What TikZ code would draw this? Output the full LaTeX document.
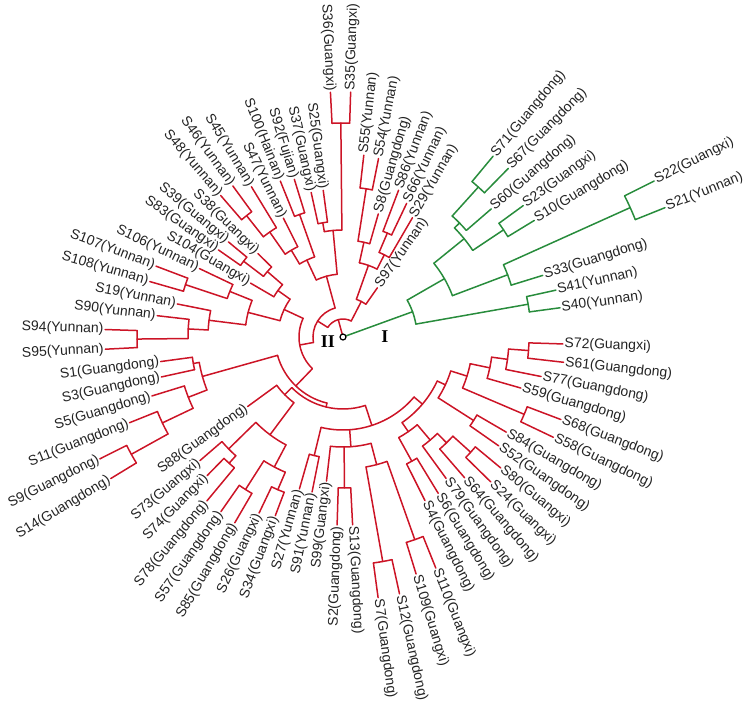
\documentclass[tikz,border=0pt]{standalone}
\usepackage{fontspec}
\setmainfont{Liberation Serif}
\setsansfont{Liberation Sans}
\definecolor{redc}{RGB}{204,20,38}
\definecolor{greenc}{RGB}{40,140,60}
\definecolor{textc}{RGB}{35,35,35}
\tikzset{
  rb/.style={draw=redc,line width=1.5pt,line cap=round},
  gb/.style={draw=greenc,line width=1.5pt,line cap=round},
  lbl/.style={font=\sffamily\fontsize{14}{16}\selectfont,text=textc,inner sep=1.5pt},
  clade/.style={font=\rmfamily\bfseries\fontsize{18}{20}\selectfont,text=black,inner sep=0pt}
}
% arc of an internal node: style, start angle, end angle, radius
\newcommand\ar[4]{\draw[#1] (#2:#4pt) arc[start angle=#2, end angle=#3, radius=#4pt];}
% radial branch: style, angle, inner radius, outer radius
\newcommand\br[4]{\draw[#1] (#2:#3pt) -- (#2:#4pt);}
% leaf: style, number, angle, parent radius, tip radius, province
\newcommand\lf[6]{%
  \coordinate (t#2) at (#3:#5pt);
  \draw[#1] (#3:#4pt) -- (t#2);
  \ifdim #3pt>90pt
    \ifdim #3pt<270pt
      \node[lbl,anchor=east,rotate=#3-180] (l#2) at (t#2) {S#2(#6)};
    \else
      \node[lbl,anchor=west,rotate=#3] (l#2) at (t#2) {S#2(#6)};
    \fi
  \else
    \node[lbl,anchor=west,rotate=#3] (l#2) at (t#2) {S#2(#6)};
  \fi}
\begin{document}
\begin{tikzpicture}[x=1pt,y=1pt]
\useasboundingbox (-343,-367) rectangle (407,337);
% ---------------- green clade I ----------------
\ar{gb}{45.56}{50.30}{202}
\lf{gb}{71}{50.30}{202}{235}{Guangdong}
\lf{gb}{67}{45.56}{202}{236}{Guangdong}
\br{gb}{47.93}{163}{202}
\ar{gb}{40.83}{47.93}{163}
\lf{gb}{60}{40.83}{163}{196}{Guangdong}
\br{gb}{44.38}{156}{163}
\ar{gb}{31.35}{36.09}{193}
\lf{gb}{23}{36.09}{193}{223}{Guangxi}
\lf{gb}{10}{31.35}{193}{224}{Guangdong}
\br{gb}{33.72}{156}{193}
\ar{gb}{33.72}{44.38}{156}
\br{gb}{39.05}{117}{156}
\ar{gb}{21.88}{26.62}{315}
\lf{gb}{22}{26.62}{315}{348}{Guangxi}
\lf{gb}{21}{21.88}{315}{347}{Yunnan}
\br{gb}{24.25}{176}{315}
\ar{gb}{17.14}{24.25}{176}
\lf{gb}{33}{17.14}{176}{209}{Guangdong}
\br{gb}{20.70}{117}{176}
\ar{gb}{20.70}{39.05}{117}
\br{gb}{29.88}{74}{117}
\ar{gb}{7.67}{12.41}{188}
\lf{gb}{41}{12.41}{188}{218}{Yunnan}
\lf{gb}{40}{7.67}{188}{219}{Yunnan}
\br{gb}{10.04}{74}{188}
\ar{gb}{10.04}{29.88}{74}
\br{gb}{19.96}{3.5}{74}
% ---------------- red clade II : A ----------------
\ar{rb}{78.74}{83.47}{150}
\lf{rb}{55}{83.47}{150}{183}{Yunnan}
\lf{rb}{54}{78.74}{150}{182}{Yunnan}
\br{rb}{81.11}{97}{150}
\ar{rb}{74.00}{81.11}{97}
\lf{rb}{8}{74.00}{97}{128}{Guangdong}
\br{rb}{77.55}{76}{97}
\ar{rb}{64.53}{69.26}{113}
\lf{rb}{86}{69.26}{113}{157}{Yunnan}
\lf{rb}{66}{64.53}{113}{148}{Yunnan}
\br{rb}{66.90}{92}{113}
\ar{rb}{59.79}{66.90}{92}
\lf{rb}{29}{59.79}{92}{138}{Yunnan}
\br{rb}{63.34}{76}{92}
\ar{rb}{63.34}{77.55}{76}
\br{rb}{70.45}{40}{76}
\ar{rb}{55.05}{70.45}{40}
\lf{rb}{97}{55.05}{40}{60}{Yunnan}
\br{rb}{62.75}{18}{40}
% ---------------- top ----------------
\ar{rb}{88.21}{92.94}{214}
\lf{rb}{36}{92.94}{214}{245}{Guangxi}
\lf{rb}{35}{88.21}{214}{245}{Guangxi}
\br{rb}{90.58}{107}{214}
\ar{rb}{97.68}{102.42}{116}
\lf{rb}{37}{102.42}{116}{148}{Guangxi}
\lf{rb}{25}{97.68}{116}{148}{Guangxi}
\br{rb}{100.05}{107}{116}
\ar{rb}{90.58}{100.05}{107}
\br{rb}{95.32}{63}{107}
\ar{rb}{107.15}{111.89}{130}
\lf{rb}{100}{111.89}{130}{168}{Hainan}
\lf{rb}{92}{107.15}{130}{165}{Fujian}
\br{rb}{109.52}{85}{130}
\ar{rb}{126.10}{130.84}{155}
\lf{rb}{48}{130.84}{155}{187}{Yunnan}
\lf{rb}{46}{126.10}{155}{187}{Yunnan}
\br{rb}{128.47}{128}{155}
\ar{rb}{121.36}{128.47}{128}
\lf{rb}{45}{121.36}{128}{176}{Yunnan}
\br{rb}{124.92}{101}{128}
\ar{rb}{116.63}{124.92}{101}
\lf{rb}{47}{116.63}{101}{133}{Yunnan}
\br{rb}{120.78}{85}{101}
\ar{rb}{109.52}{120.78}{85}
\br{rb}{115.15}{63}{85}
\ar{rb}{95.32}{115.15}{63}
\br{rb}{105.24}{30}{63}
% ---------------- upper left ----------------
\ar{rb}{140.31}{145.05}{125}
\lf{rb}{83}{145.05}{125}{152}{Guangxi}
\lf{rb}{39}{140.31}{125}{149}{Guangxi}
\br{rb}{142.68}{100}{125}
\ar{rb}{135.57}{142.68}{100}
\lf{rb}{38}{135.57}{100}{119}{Guangxi}
\br{rb}{139.13}{80}{100}
\ar{rb}{139.13}{149.78}{80}
\lf{rb}{104}{149.78}{80}{107}{Guangxi}
\br{rb}{144.46}{65}{80}
\ar{rb}{159.25}{163.99}{166}
\lf{rb}{107}{159.25}{166}{200}{Yunnan}
\lf{rb}{108}{163.99}{166}{201}{Yunnan}
\br{rb}{161.62}{122}{166}
\ar{rb}{154.52}{161.62}{122}
\lf{rb}{106}{154.52}{122}{159}{Yunnan}
\br{rb}{158.07}{98}{122}
\ar{rb}{178.20}{182.94}{206}
\lf{rb}{94}{178.20}{206}{238}{Yunnan}
\lf{rb}{95}{182.94}{206}{238}{Yunnan}
\br{rb}{180.57}{155}{206}
\ar{rb}{173.46}{180.57}{155}
\lf{rb}{90}{173.46}{155}{187}{Yunnan}
\br{rb}{177.02}{135}{155}
\ar{rb}{168.73}{177.02}{135}
\lf{rb}{19}{168.73}{135}{169}{Yunnan}
\br{rb}{172.88}{98}{135}
\ar{rb}{158.07}{172.88}{98}
\br{rb}{165.48}{65}{98}
\ar{rb}{144.46}{165.48}{65}
\br{rb}{154.97}{44}{65}
% ---------------- left bottom ----------------
\ar{rb}{187.67}{192.41}{152}
\lf{rb}{1}{187.67}{152}{184}{Guangdong}
\lf{rb}{3}{192.41}{152}{186}{Guangdong}
\br{rb}{190.04}{146}{152}
\ar{rb}{206.62}{211.36}{242}
\lf{rb}{9}{206.62}{242}{272}{Guangdong}
\lf{rb}{14}{211.36}{242}{272}{Guangdong}
\br{rb}{208.99}{200}{242}
\ar{rb}{201.88}{208.99}{200}
\lf{rb}{11}{201.88}{200}{230}{Guangdong}
\br{rb}{205.44}{166}{200}
\ar{rb}{197.15}{205.44}{166}
\lf{rb}{5}{197.15}{166}{200}{Guangdong}
\br{rb}{201.29}{146}{166}
\ar{rb}{190.04}{201.29}{146}
\br{rb}{195.67}{68}{146}
% ---------------- lower left ----------------
\ar{rb}{225.57}{230.30}{170}
\lf{rb}{74}{225.57}{170}{194}{Guangxi}
\lf{rb}{78}{230.30}{170}{213}{Guangdong}
\br{rb}{227.94}{160}{170}
\ar{rb}{220.83}{227.94}{160}
\lf{rb}{73}{220.83}{160}{189}{Guangxi}
\br{rb}{224.38}{122}{160}
\ar{rb}{235.04}{239.78}{181}
\lf{rb}{57}{235.04}{181}{213}{Guangdong}
\lf{rb}{85}{239.78}{181}{215}{Guangdong}
\br{rb}{237.41}{147}{181}
\ar{rb}{244.51}{249.25}{166}
\lf{rb}{26}{244.51}{166}{195}{Guangxi}
\lf{rb}{34}{249.25}{166}{191}{Guangxi}
\br{rb}{246.88}{147}{166}
\ar{rb}{237.41}{246.88}{147}
\br{rb}{242.15}{122}{147}
\ar{rb}{224.38}{242.15}{122}
\br{rb}{233.26}{82}{122}
\ar{rb}{216.09}{233.26}{82}
\lf{rb}{88}{216.09}{82}{118}{Guangdong}
\br{rb}{224.68}{72}{82}
% ---------------- bottom ----------------
\ar{rb}{253.99}{258.72}{122}
\lf{rb}{27}{253.99}{122}{158}{Yunnan}
\lf{rb}{91}{258.72}{122}{158}{Yunnan}
\br{rb}{256.36}{93}{122}
\ar{rb}{268.20}{272.93}{151}
\lf{rb}{2}{268.20}{151}{188}{Guangdong}
\lf{rb}{13}{272.93}{151}{188}{Guangdong}
\br{rb}{270.57}{110}{151}
\ar{rb}{277.67}{282.41}{228}
\lf{rb}{7}{277.67}{228}{263}{Guangdong}
\lf{rb}{12}{282.41}{228}{263}{Guangdong}
\br{rb}{280.04}{132}{228}
\ar{rb}{287.14}{291.88}{215}
\lf{rb}{109}{287.14}{215}{248}{Guangxi}
\lf{rb}{110}{291.88}{215}{249}{Guangxi}
\br{rb}{289.51}{132}{215}
\ar{rb}{280.04}{289.51}{132}
\br{rb}{284.78}{110}{132}
\ar{rb}{263.46}{284.78}{110}
\lf{rb}{99}{263.46}{110}{145}{Guangxi}
\br{rb}{274.12}{93}{110}
% ---------------- right bottom ----------------
\ar{rb}{315.56}{320.30}{172}
\lf{rb}{24}{315.56}{172}{207}{Guangxi}
\lf{rb}{80}{320.30}{172}{205}{Guangxi}
\br{rb}{317.93}{148}{172}
\ar{rb}{310.83}{317.93}{148}
\lf{rb}{64}{310.83}{148}{186}{Guangdong}
\br{rb}{314.38}{135}{148}
\ar{rb}{306.09}{314.38}{135}
\lf{rb}{79}{306.09}{135}{175}{Guangdong}
\br{rb}{310.24}{115}{135}
\ar{rb}{296.62}{301.35}{142}
\lf{rb}{4}{296.62}{142}{183}{Guangdong}
\lf{rb}{6}{301.35}{142}{183}{Guangdong}
\br{rb}{298.99}{115}{142}
\ar{rb}{298.99}{310.24}{115}
\br{rb}{304.61}{104}{115}
\ar{rb}{325.04}{329.77}{155}
\lf{rb}{52}{325.04}{155}{190}{Guangdong}
\lf{rb}{84}{329.77}{155}{189}{Guangdong}
\br{rb}{327.41}{113}{155}
\ar{rb}{334.51}{339.25}{197}
\lf{rb}{58}{334.51}{197}{233}{Guangdong}
\lf{rb}{68}{339.25}{197}{233}{Guangdong}
\br{rb}{336.88}{130}{197}
\ar{rb}{353.46}{358.19}{186}
\lf{rb}{61}{353.46}{186}{222}{Guangdong}
\lf{rb}{72}{358.19}{186}{220}{Guangxi}
\br{rb}{355.83}{166}{186}
\ar{rb}{348.72}{355.83}{166}
\lf{rb}{77}{348.72}{166}{202}{Guangdong}
\br{rb}{352.27}{150}{166}
\ar{rb}{343.98}{352.27}{150}
\lf{rb}{59}{343.98}{150}{185}{Guangdong}
\br{rb}{348.13}{130}{150}
\ar{rb}{336.88}{348.13}{130}
\br{rb}{342.5}{113}{130}
\ar{rb}{327.41}{342.5}{113}
\br{rb}{334.96}{104}{113}
\ar{rb}{304.61}{334.96}{104}
\br{rb}{319.79}{93}{104}
% ---------------- backbone of clade II ----------------
\ar{rb}{256.36}{319.79}{93}
\br{rb}{288.08}{72}{93}
\ar{rb}{224.68}{288.08}{72}
\br{rb}{256.38}{68}{72}
\ar{rb}{195.67}{256.38}{68}
\br{rb}{226.03}{44}{68}
\ar{rb}{154.97}{226.03}{44}
\br{rb}{190.5}{30}{44}
\ar{rb}{105.24}{190.5}{30}
\br{rb}{147.87}{18}{30}
\ar{rb}{62.75}{147.87}{18}
\br{rb}{105.31}{3.5}{18}
% ---------------- root and clade names ----------------
\node[circle,draw=black,fill=white,line width=1.2pt,minimum size=6pt,inner sep=0pt] (root) at (0,0) {};
\node[clade] (cII) at (-15,-5) {II};
\node[clade] (cI) at (42,0) {I};
\end{tikzpicture}
\end{document}
